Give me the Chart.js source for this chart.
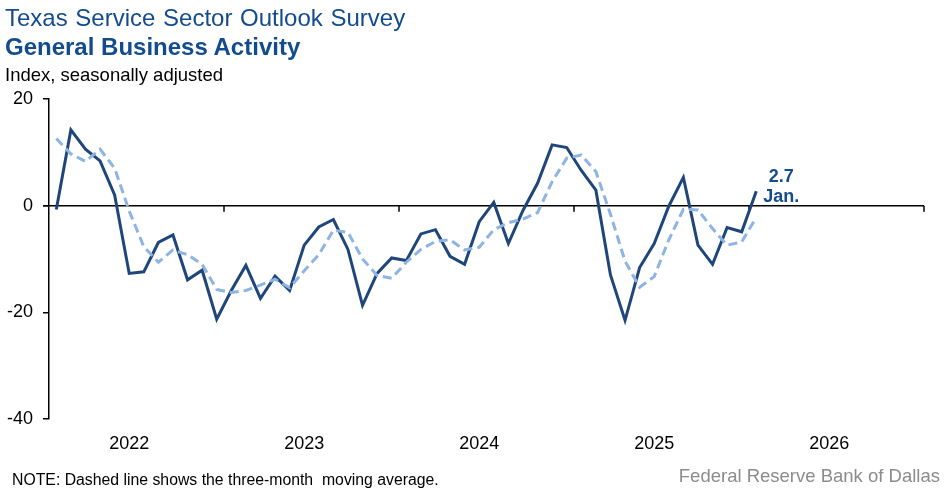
<!DOCTYPE html>
<html>
<head>
<meta charset="utf-8">
<script src="https://cdn.jsdelivr.net/npm/chart.js@4.4.1/dist/chart.umd.min.js"></script>
<style>
  body { margin: 0; background: #fff; font-family: Arial, "Liberation Sans", sans-serif; }
  #wrap { position: relative; width: 949px; height: 493px; overflow: hidden; }
  canvas { position: absolute; left: 0; top: 0; }
  .txt { position: absolute; white-space: nowrap; }
</style>
</head>
<body>
<div id="wrap">
  <canvas id="gbaChart" width="949" height="493"></canvas>
  <div class="txt" style="left:5px; top:6px; font-size:24px; line-height:24px; color:#124c8f; word-spacing:1px;">Texas Service Sector Outlook Survey</div>
  <div class="txt" style="left:5px; top:35px; font-size:24px; line-height:24px; color:#124c8f; font-weight:bold;">General Business Activity</div>
  <div class="txt" style="left:5px; top:66px; font-size:18.5px; line-height:18.5px; color:#000;">Index, seasonally adjusted</div>
  <div class="txt" style="left:12px; top:472px; font-size:15.8px; line-height:15.8px; color:#000;">NOTE: Dashed line shows the three-month&nbsp; moving average.</div>
  <div class="txt" style="right:9px; top:467px; font-size:18.5px; line-height:18.5px; color:#8c8c8c;">Federal Reserve Bank of Dallas</div>
</div>
<script>
// Index mensuel, janv. 2022 -> janv. 2026
const activity = [
  -0.7, 14.2, 10.6, 8.4, 2.0, -12.7, -12.4, -6.9, -5.5, -13.9, -12.1, -21.3,
  -15.9, -11.2, -17.4, -13.2, -15.9, -7.4, -4.0, -2.6, -8.2, -18.7, -12.7, -9.8,
  -10.3, -5.3, -4.5, -9.5, -11.0, -3.0, 0.6, -7.1, -0.9, 4.2, 11.4, 10.9,
  6.6, 2.9, -13.0, -21.5, -11.6, -7.1, -0.1, 5.3, -7.4, -11.0, -4.1, -4.9,
  2.7
];
// moyenne mobile sur 3 mois
const movingAvg = [
  12.6, 9.7, 8.3, 10.6, 7.0, -1.0, -7.7, -10.6, -8.3, -9.2, -11.0, -15.7,
  -16.3, -15.9, -14.9, -13.8, -15.4, -12.2, -9.2, -4.6, -5.0, -10.0, -13.1, -13.6,
  -10.6, -8.2, -6.7, -6.4, -8.3, -7.8, -4.5, -3.2, -2.5, -1.3, 4.5, 8.9,
  9.5, 6.4, -1.6, -10.4, -15.3, -13.3, -6.4, -0.7, -0.8, -4.3, -7.4, -6.8,
  -2.2
];
const yearLabels = ['2022', '2023', '2024', '2025', '2026'];
const yTicks = [20, 0, -20, -40];
const latestMonth = 'Jan.';

// mois centrés : janv. 2022 = 0.5
const toPoints = arr => arr.map((v, i) => ({ x: i + 0.5, y: v }));

const navy = '#1f467a';
const lightBlue = '#8db4e2';
const labelBlue = '#124c8f';

// ligne du zéro + repères d'années
const zeroLine = {
  id: 'zeroLine',
  beforeDatasetsDraw(chart) {
    const { ctx, chartArea, scales: { x, y } } = chart;
    const y0 = y.getPixelForValue(0);
    ctx.save();
    ctx.strokeStyle = '#000';
    ctx.lineWidth = 1.5;
    ctx.beginPath();
    ctx.moveTo(chartArea.left - 6, y0);
    ctx.lineTo(chartArea.right, y0);
    for (let k = 1; k <= yearLabels.length; k++) {
      const px = x.getPixelForValue(k * 12);
      ctx.moveTo(px, y0);
      ctx.lineTo(px, y0 + 6);
    }
    ctx.stroke();
    ctx.restore();
  },
  afterDatasetsDraw(chart) {
    const { ctx, scales: { x, y } } = chart;
    const last = activity.length - 1;
    const px = x.getPixelForValue(last + 0.5);
    const py = y.getPixelForValue(activity[last]);
    ctx.save();
    ctx.fillStyle = labelBlue;
    ctx.font = 'bold 18px Arial, "Liberation Sans", sans-serif';
    ctx.textAlign = 'center';
    ctx.textBaseline = 'alphabetic';
    ctx.fillText(activity[last].toFixed(1), px + 25, py - 9);
    ctx.fillText(latestMonth, px + 25, py + 11);
    ctx.restore();
  }
};

new Chart(document.getElementById('gbaChart'), {
  type: 'line',
  data: {
    datasets: [
      {
        label: 'Moyenne mobile 3 mois',
        data: toPoints(movingAvg),
        borderColor: lightBlue,
        borderWidth: 3,
        borderDash: [9, 5],
        pointRadius: 0,
        tension: 0,
        fill: false
      },
      {
        label: 'Activité générale',
        data: toPoints(activity),
        borderColor: navy,
        borderWidth: 3,
        pointRadius: 0,
        tension: 0,
        fill: false
      }
    ]
  },
  options: {
    responsive: false,
    animation: false,
    devicePixelRatio: 1,
    layout: { padding: { left: 0, top: 99, right: 25, bottom: 0 } },
    plugins: {
      legend: { display: false },
      tooltip: { enabled: false }
    },
    scales: {
      x: {
        type: 'linear',
        min: 0,
        max: 60,
        afterBuildTicks(scale) {
          scale.ticks = yearLabels.map((_, k) => ({ value: k * 12 + 5.5 }));
        },
        afterFit(scale) { scale.height = 74; },
        grid: { display: false, drawTicks: false },
        border: { display: false },
        ticks: {
          autoSkip: false,
          maxRotation: 0,
          padding: 14,
          color: '#000',
          font: { size: 18, family: 'Arial, "Liberation Sans", sans-serif' },
          callback: (v, i) => yearLabels[i]
        }
      },
      y: {
        min: -40,
        max: 20,
        afterBuildTicks(scale) {
          scale.ticks = yTicks.map(v => ({ value: v }));
        },
        afterFit(scale) { scale.width = 49; },
        grid: { drawOnChartArea: false, drawTicks: true, tickLength: 6, color: '#000', lineWidth: 1.5 },
        border: { display: true, color: '#000', width: 1.5 },
        ticks: {
          padding: 10,
          color: '#000',
          font: { size: 18, family: 'Arial, "Liberation Sans", sans-serif' }
        }
      }
    }
  },
  plugins: [zeroLine]
});
</script>
</body>
</html>
